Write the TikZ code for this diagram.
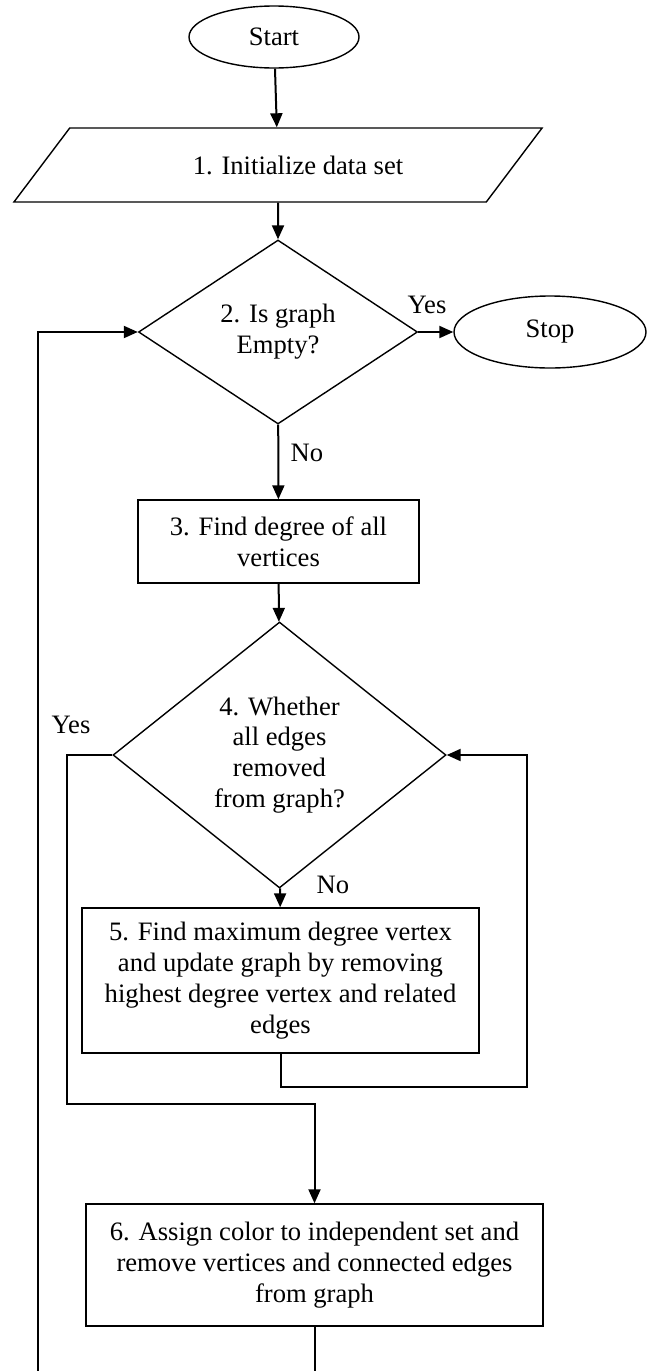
\documentclass[tikz,border=0pt]{standalone}
\usepackage{fontspec}
\setmainfont{Liberation Serif}
\usetikzlibrary{shapes.geometric,arrows.meta}

\begin{document}
\begin{tikzpicture}[x=0.5pt,y=-0.5pt,
  every node/.style={font=\fontsize{13.3}{15.4}\selectfont},
  flowbox/.style={draw,line width=0.7pt,rectangle,align=center,inner sep=0pt},
  terminal/.style={draw,line width=0.7pt,ellipse,inner sep=0pt},
  decision/.style={draw,line width=0.7pt,diamond,align=center,inner sep=0pt},
  flowarrow/.style={line width=1pt,-{Triangle[length=7pt,width=6pt]}}]
% Page size and crop
\useasboundingbox (0,0) rectangle (653,1371);
\clip (0,0) rectangle (653,1371);
% Draw the shapes
\node[terminal,minimum width=85pt,minimum height=31pt] (start) at (274,37) {Start};
\node[draw,line width=0.7pt,trapezium,trapezium left angle=29.3,trapezium right angle=150.7,
  trapezium stretches=true,minimum width=264.5pt,minimum height=37pt,inner sep=0pt] (init) at (278,165) {\hspace*{20pt}1. Initialize data set};
\node[decision,minimum width=139.5pt,minimum height=92pt] (empty) at (278,332) {2. Is graph\\Empty?};
\node[terminal,minimum width=96pt,minimum height=36pt] (stop) at (550,332) {Stop};
\node[flowbox,minimum width=140.5pt,minimum height=41.5pt] (degree) at (278.5,541.5) {3. Find degree of all\\vertices};
\node[decision,minimum width=166.5pt,minimum height=133pt] (removed) at (279.5,755) {4. Whether\\all edges\\removed\\from graph?};
\node[flowbox,minimum width=198.5pt,minimum height=72.5pt] (maxdeg) at (280.5,980.5) {5. Find maximum degree vertex\\and update graph by removing\\highest degree vertex and related\\edges};
\node[flowbox,minimum width=228.5pt,minimum height=61pt] (assign) at (314.5,1265) {6. Assign color to independent set and\\remove vertices and connected edges\\from graph};
% Branch labels
\node (yesstop) at (427,305) {Yes};
\node (nodegree) at (307,453) {No};
\node (yesassign) at (71,725) {Yes};
\node (nomax) at (333,885) {No};
% Corner points of the loops
\coordinate (loopright) at (527,1087);
\coordinate (yesleft) at (67,1104);
\coordinate (loopleft) at (38,1400);
% Connectors
\draw[flowarrow] (start) -- (init);
\draw[flowarrow] (init) -- (empty);
\draw[flowarrow] (empty) -- (stop);
\draw[flowarrow] (empty) -- (degree);
\draw[flowarrow] (degree) -- (removed);
\draw[flowarrow] (removed) -- (maxdeg);
\draw[flowarrow] (maxdeg.south) |- (loopright) |- (removed.east);
\draw[flowarrow] (removed.west) -| (yesleft) -| (assign.north);
\draw[flowarrow] (assign.south) |- (loopleft) |- (empty.west);
\end{tikzpicture}
\end{document}
